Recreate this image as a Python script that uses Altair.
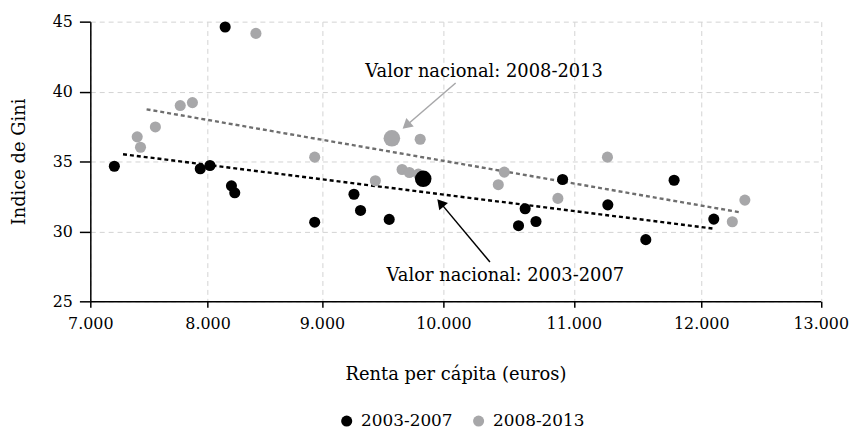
import altair as alt
import pandas as pd

# ---------------- data ----------------
periodos = ["2003-2007", "2008-2013"]
colores = ["#000000", "#a7a7a9"]

renta_0307 = [8154, 7205, 7938, 8021, 8209, 8238, 8937, 9264, 9318, 9554,
              9834, 10627, 10576, 10710, 10914, 11267, 11787, 12105, 11565]
gini_0307 = [44.62, 34.66, 34.48, 34.71, 33.26, 32.76, 30.66, 32.66, 31.50, 30.86,
             33.76, 31.62, 30.41, 30.71, 33.71, 31.90, 33.66, 30.88, 29.41]
nacional_0307 = 10  # index of the national value

renta_0813 = [8423, 7767, 7871, 7555, 7400, 7428, 8937, 9576, 9809, 9660,
              9720, 9793, 9440, 10467, 10421, 10878, 11264, 12365, 12260]
gini_0813 = [44.16, 39.00, 39.21, 37.47, 36.76, 36.02, 35.31, 36.66, 36.59, 34.43,
             34.21, 34.10, 33.62, 34.24, 33.34, 32.36, 35.31, 32.24, 30.69]
nacional_0813 = 7

# trend lines (start / end)
tend_periodo = ["2003-2007", "2003-2007", "2008-2013", "2008-2013"]
tend_renta = [7279, 12094, 7480, 12329]
tend_gini = [35.52, 30.21, 38.73, 31.36]
tend_color = ["#000000", "#000000", "#6e6e6e", "#6e6e6e"]

# annotations
anot_texto = ["Valor nacional: 2008-2013", "Valor nacional: 2003-2007"]
anot_renta = [10312, 10475]
anot_gini = [41.02, 26.47]
flecha_renta = [10094, 10357]
flecha_gini = [40.61, 27.81]
flecha_renta2 = [9695, 9976]
flecha_gini2 = [37.57, 32.04]
flecha_angulo = [229, 320]
flecha_color = ["#a7a7a9", "#000000"]

x_ticks = [7000, 8000, 9000, 10000, 11000, 12000, 13000]
x_range = [0, 118.2, 233.5, 356, 487.5, 616, 736.5]
y_ticks = [25, 30, 35, 40, 45]

FONT = "DejaVu Serif"

# ---------------- tables ----------------
rows = []
for r, g in zip(renta_0813, gini_0813):
    rows.append(dict(renta=r, gini=g, periodo=periodos[1], nacional=False))
rows[nacional_0813]["nacional"] = True
rows_b = []
for r, g in zip(renta_0307, gini_0307):
    rows_b.append(dict(renta=r, gini=g, periodo=periodos[0], nacional=False))
rows_b[nacional_0307]["nacional"] = True
pts = pd.DataFrame(rows + rows_b)

tend = pd.DataFrame(dict(periodo=tend_periodo, renta=tend_renta, gini=tend_gini, col=tend_color))
anot = pd.DataFrame(dict(texto=anot_texto, renta=anot_renta, gini=anot_gini))
flechas = pd.DataFrame(dict(renta=flecha_renta, gini=flecha_gini, renta2=flecha_renta2,
                            gini2=flecha_gini2, angulo=flecha_angulo, col=flecha_color))

xscale = alt.Scale(domain=x_ticks, range=x_range)
yscale = alt.Scale(domain=[25, 45])

xaxis = alt.Axis(values=x_ticks, labelExpr="replace(format(datum.value, ',d'), ',', '.')",
                 title="Renta per cápita (euros)", grid=True, tickSize=6, labelPadding=8,
                 titlePadding=35, labelFlush=False)
yaxis = alt.Axis(values=y_ticks, title="Indice de Gini", grid=True, tickSize=11,
                 labelPadding=7, titlePadding=24)


def X(field="renta"):
    return alt.X(f"{field}:Q", scale=xscale, axis=xaxis)


def Y(field="gini"):
    return alt.Y(f"{field}:Q", scale=yscale, axis=yaxis)


lines = alt.Chart(tend).mark_line(strokeWidth=2.4, strokeDash=[4, 3]).encode(
    x=X(), y=Y(), detail="periodo:N", color=alt.Color("col:N", scale=None)
)

points = alt.Chart(pts).mark_circle(opacity=1).encode(
    x=X(), y=Y(),
    color=alt.Color("periodo:N", scale=alt.Scale(domain=periodos, range=colores),
                    legend=alt.Legend(title=None, orient="none", legendX=250, legendY=394,
                                      direction="horizontal", symbolSize=125, symbolType="circle",
                                      labelFontSize=17, labelOffset=6, columnPadding=17,
                                      symbolStrokeWidth=0, padding=0, labelFont=FONT,
                                      labelColor="#000000")),
    size=alt.condition("datum.nacional", alt.value(280), alt.value(125)),
)

arrows = alt.Chart(flechas).mark_rule(strokeWidth=1.5).encode(
    x=X(), y=Y(), x2="renta2:Q", y2="gini2:Q", color=alt.Color("col:N", scale=None)
)
heads = alt.Chart(flechas).mark_point(shape="triangle-up", filled=True, size=130, opacity=1).encode(
    x=X("renta2"), y=Y("gini2"), angle=alt.Angle("angulo:Q", scale=None),
    color=alt.Color("col:N", scale=None)
)
texts = alt.Chart(anot).mark_text(fontSize=18, font=FONT, baseline="alphabetic", align="center",
                                  color="#000000").encode(
    x=X(), y=Y(), text="texto:N"
)

chart = alt.layer(lines, points, arrows, heads, texts).properties(
    width=737, height=282,
    autosize=alt.AutoSizeParams(type="none"),
    padding={"left": 83, "top": 12, "right": 30, "bottom": 130},
).configure(font=FONT).configure_view(stroke=None).configure_axis(
    labelFont=FONT, titleFont=FONT, labelFontSize=16, titleFontSize=18,
    titleFontWeight="normal", labelColor="#000000", titleColor="#000000",
    domainColor="#000000", domainWidth=1.5, tickColor="#000000", tickWidth=1.5,
    gridColor="#d2d2d2", gridDash=[5, 4], gridWidth=1,
)

chart.save("out.html", embed_options={"renderer": "svg", "actions": False})
